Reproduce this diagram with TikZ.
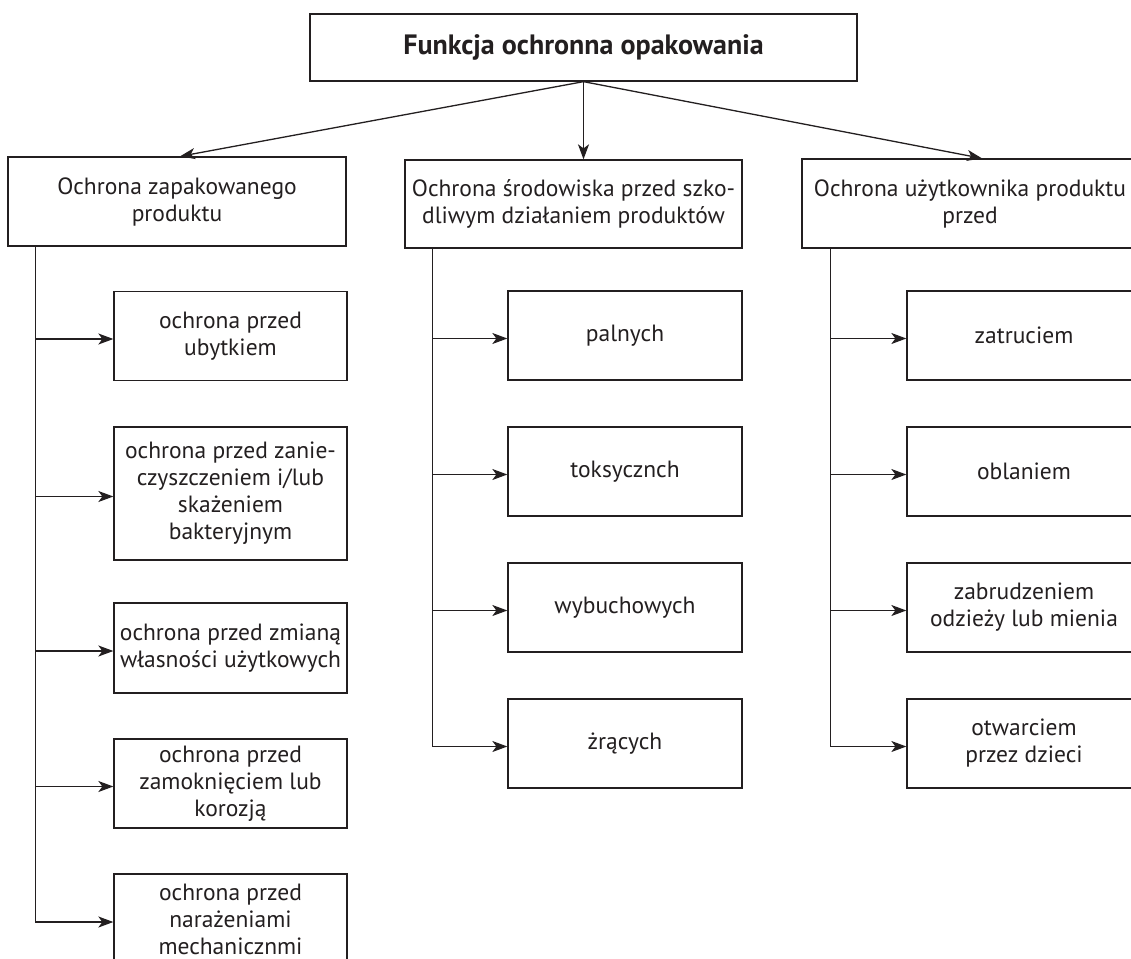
\documentclass[tikz,border=0pt]{standalone}
\usepackage{fontspec}
\setmainfont{PT Sans}
\usetikzlibrary{arrows.meta,calc}
\definecolor{ink}{RGB}{35,31,32}
\begin{document}
\begin{tikzpicture}[x=1pt,y=-1pt,
  box/.style={draw=ink, line width=1.3pt, text=ink, inner sep=0pt, align=center,
    font=\fontsize{23.5}{27}\selectfont},
  titlebox/.style={box, font=\fontsize{28}{32}\selectfont\bfseries},
  conn/.style={draw=ink, line width=1.3pt},
  arr/.style={conn, -{Stealth[length=15pt,width=11pt,inset=4pt]}},
]
\clip (0,0) rectangle (1131,958);
\fill[white] (0,0) rectangle (1131,958);

% top
\node[titlebox, minimum width=547pt, minimum height=67pt] (T) at (583.5,47.5) {Funkcja ochronna opakowania};

% level 2
\node[box, minimum width=338pt, minimum height=89pt] (A) at (177,201.5) {Ochrona zapakowanego\\produktu};
\node[box, minimum width=337pt, minimum height=88pt] (B) at (573.5,204) {Ochrona środowiska przed szko-\\dliwym działaniem produktów};
\node[box, minimum width=336pt, minimum height=89pt] (C) at (970,203.5) {Ochrona użytkownika produktu\\przed};

% left column
\node[box, minimum width=233pt, minimum height=89pt] (L1) at (230.5,336) {ochrona przed\\ubytkiem};
\node[box, minimum width=233pt, minimum height=133pt] (L2) at (230.5,493.5) {ochrona przed zanie-\\czyszczeniem i/lub\\skażeniem\\bakteryjnym};
\node[box, minimum width=233pt, minimum height=90pt] (L3) at (230.5,648) {ochrona przed zmianą\\własności użytkowych};
\node[box, minimum width=233pt, minimum height=89pt] (L4) at (230.5,783.5) {ochrona przed\\zamoknięciem lub\\korozją};
\node[box, minimum width=233pt, minimum height=90pt] (L5) at (230.5,919) {ochrona przed\\narażeniami\\mechanicznmi};

% middle column
\node[box, minimum width=234pt, minimum height=89pt] (M1) at (625,335.5) {palnych};
\node[box, minimum width=234pt, minimum height=89pt] (M2) at (625,471.5) {toksycznch};
\node[box, minimum width=234pt, minimum height=89pt] (M3) at (625,607.5) {wybuchowych};
\node[box, minimum width=234pt, minimum height=89pt] (M4) at (625,743.5) {żrących};

% right column
\node[box, minimum width=234pt, minimum height=89pt] (R1) at (1024,335.5) {zatruciem};
\node[box, minimum width=234pt, minimum height=89pt] (R2) at (1024,471.5) {oblaniem};
\node[box, minimum width=234pt, minimum height=89pt] (R3) at (1024,607.5) {zabrudzeniem\\odzieży lub mienia};
\node[box, minimum width=234pt, minimum height=89pt] (R4) at (1024,743.5) {otwarciem\\przez dzieci};

% top arrows
\draw[arr] (T.south) -- ([xshift=3pt]A.north);
\draw[arr] (T.south) -- (T.south |- B.north);
\draw[arr] (T.south) -- ([xshift=12pt]C.north);

% trunks
\coordinate (ta) at ([xshift=28pt]A.south west);
\coordinate (tb) at ([xshift=28pt]B.south west);
\coordinate (tc) at ([xshift=29pt]C.south west);

\draw[arr] (ta) |- ([yshift=-3pt]L5.west);
\foreach \n in {L1,L2,L3,L4}
  \draw[arr] ([yshift=-3pt]\n.west -| ta) -- ([yshift=-3pt]\n.west);

\draw[arr] (tb) |- ([yshift=-3pt]M4.west);
\foreach \n in {M1,M2,M3}
  \draw[arr] ([yshift=-3pt]\n.west -| tb) -- ([yshift=-3pt]\n.west);

\draw[arr] (tc) |- ([yshift=-3pt]R4.west);
\foreach \n in {R1,R2,R3}
  \draw[arr] ([yshift=-3pt]\n.west -| tc) -- ([yshift=-3pt]\n.west);
\end{tikzpicture}
\end{document}
